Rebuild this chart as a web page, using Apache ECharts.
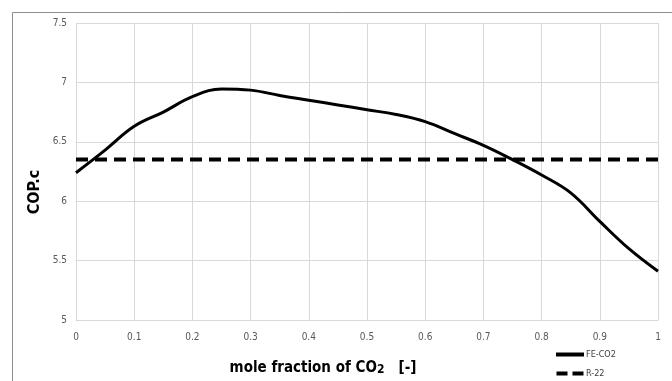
<!DOCTYPE html>
<html>
<head>
<meta charset="utf-8">
<script src="https://cdn.jsdelivr.net/npm/echarts@6/dist/echarts.min.js"></script>
<style>
  html, body { margin: 0; padding: 0; background: #fff; }
  #chart { width: 672px; height: 381px; }
</style>
</head>
<body>
<div id="chart"></div>
<script>
// mole fraction of CO2
const moleFraction = [0, 0.05, 0.1, 0.15, 0.2, 0.25, 0.3, 0.35, 0.4, 0.45, 0.5,
  0.55, 0.6, 0.65, 0.7, 0.75, 0.8, 0.85, 0.9, 0.95, 1];
// COP.c of the FE-CO2 mixture
const feCo2 = [6.24, 6.43, 6.63, 6.75, 6.88, 6.945, 6.935, 6.89, 6.85, 6.81, 6.77,
  6.73, 6.67, 6.57, 6.47, 6.35, 6.22, 6.07, 5.83, 5.60, 5.41];
// R-22 reference (constant)
const r22X = [0, 1];
const r22 = [6.35, 6.35];

const font = "'Liberation Sans Narrow', 'DejaVu Sans Condensed', 'Liberation Sans', sans-serif";

const chart = echarts.init(document.getElementById("chart"));

chart.setOption({
  animation: false,
  backgroundColor: "#fff",
  grid: { left: 76, right: 14, top: 23, bottom: 61 },
  xAxis: {
    type: "value",
    min: 0,
    max: 1,
    interval: 0.1,
    axisLine: { show: true, lineStyle: { color: "#d9d9d9" } },
    axisTick: { show: false },
    axisLabel: { color: "#595959", fontSize: 10, fontFamily: font, margin: 12 },
    splitLine: { show: true, lineStyle: { color: "#d9d9d9" } },
  },
  yAxis: {
    type: "value",
    min: 5,
    max: 7.5,
    interval: 0.5,
    axisLine: { show: false },
    axisTick: { show: false },
    axisLabel: { color: "#595959", fontSize: 10, fontFamily: font, margin: 9 },
    splitLine: { show: true, lineStyle: { color: "#d9d9d9" } },
  },
  legend: {
    orient: "vertical",
    left: 556,
    top: 349,
    padding: 0,
    itemWidth: 28,
    itemHeight: 4,
    itemGap: 8,
    textStyle: { color: "#404040", fontSize: 9, fontFamily: font, lineHeight: 11, padding: [0, 0, 0, -3] },
    data: [
      { name: "FE-CO2", icon: "rect" },
      { name: "R-22", icon: "path://M0,0H11V4H0ZM16,0H27V4H16Z" },
    ],
  },
  series: [
    {
      name: "FE-CO2",
      type: "line",
      smooth: 0.4,
      showSymbol: false,
      symbol: "none",
      data: moleFraction.map((x, i) => [x, feCo2[i]]),
      lineStyle: { color: "#000", width: 3 },
      itemStyle: { color: "#000" },
    },
    {
      name: "R-22",
      type: "line",
      showSymbol: false,
      symbol: "none",
      data: r22X.map((x, i) => [x, r22[i]]),
      lineStyle: { color: "#000", width: 4, type: [12, 7] },
      itemStyle: { color: "#000" },
    },
  ],
  graphic: [
    {
      type: "polyline",
      shape: { points: [[12.5, 381], [12.5, 12.5], [672, 12.5]] },
      style: { stroke: "#8c8c8c", lineWidth: 1, fill: null },
      silent: true,
    },
    {
      type: "text",
      x: 35,
      y: 192,
      rotation: Math.PI / 2,
      style: {
        text: "COP.c",
        fill: "#000",
        font: "bold 16px " + font,
        align: "center",
        verticalAlign: "middle",
      },
    },
    {
      type: "text",
      x: 323,
      y: 368,
      style: {
        text: "{a|mole fraction of CO}{s|2}{a|   [-]}",
        align: "center",
        verticalAlign: "middle",
        rich: {
          a: { font: "bold 15px " + font, fill: "#000" },
          s: { font: "bold 12px " + font, fill: "#000", padding: [3, 0, 0, 0] },
        },
      },
    },
  ],
});
</script>
</body>
</html>
